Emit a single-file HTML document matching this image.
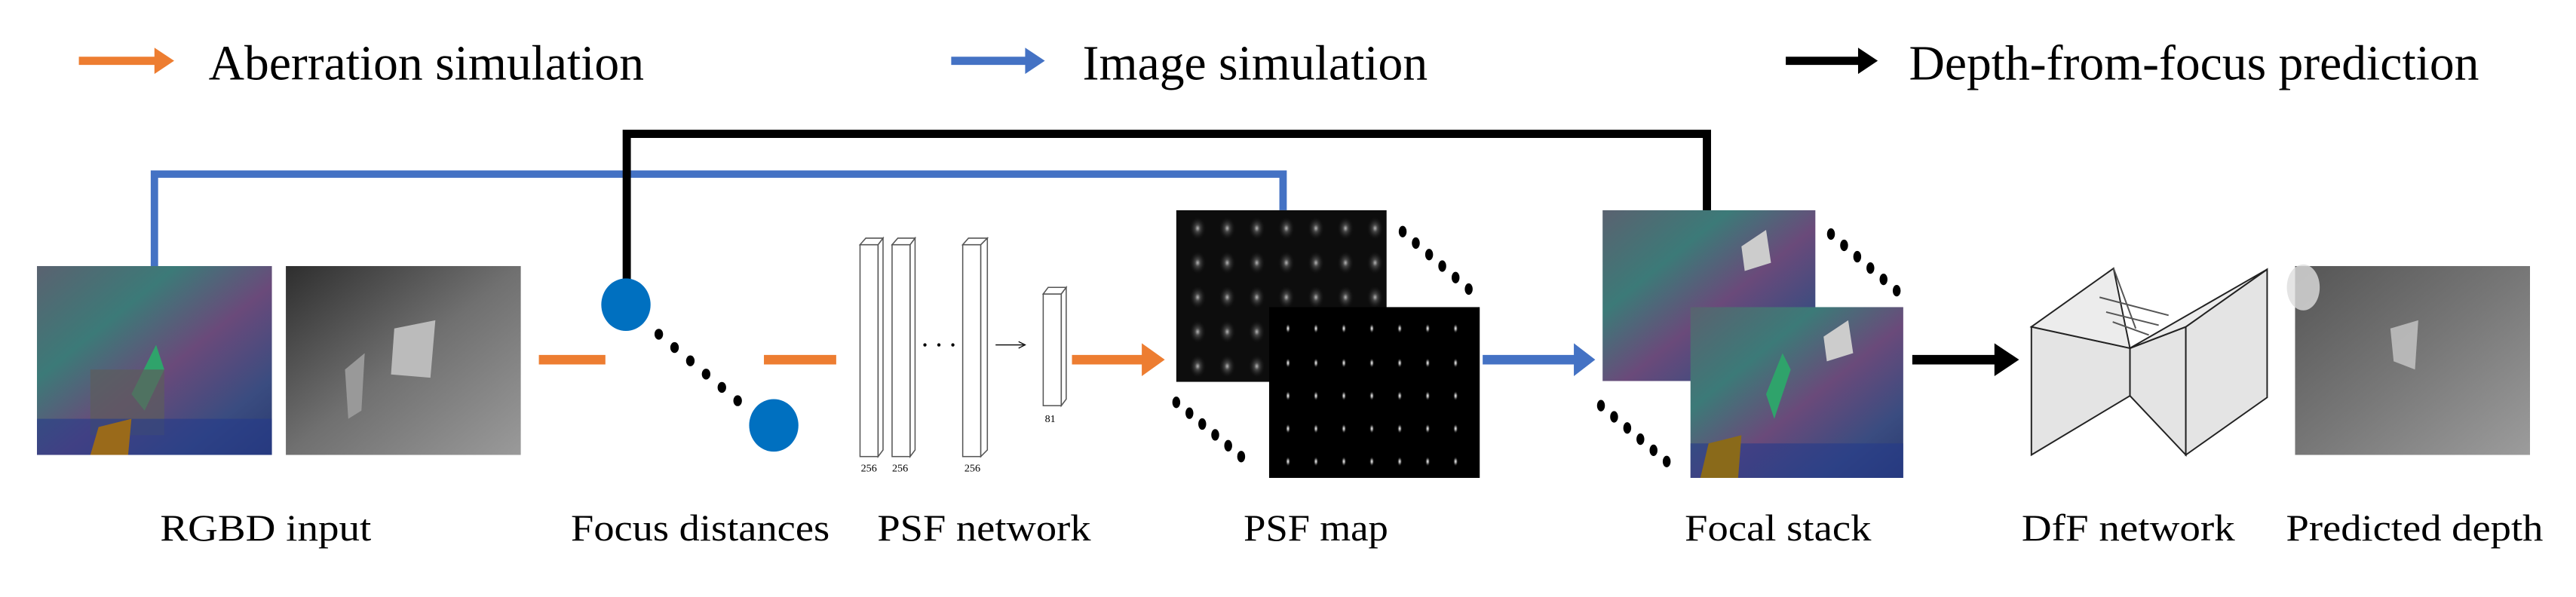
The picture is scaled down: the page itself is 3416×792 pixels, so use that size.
<!DOCTYPE html>
<html><head><meta charset="utf-8"><style>
html,body{margin:0;padding:0;background:#fff;}
svg{display:block;}
text{font-family:"Liberation Serif",serif;fill:#000;}
</style></head><body>
<svg width="3416" height="792" viewBox="0 0 1568 363.5">
<defs>
<linearGradient id="rgb" x1="0" y1="0" x2="1" y2="1">
<stop offset="0" stop-color="#5a6270"/><stop offset="0.3" stop-color="#3c7a78"/><stop offset="0.55" stop-color="#6a4a7a"/><stop offset="0.8" stop-color="#3a4c80"/><stop offset="1" stop-color="#2a3a70"/></linearGradient>
<linearGradient id="dep" x1="0" y1="0" x2="1" y2="1">
<stop offset="0" stop-color="#2e2e2e"/><stop offset="0.5" stop-color="#707070"/><stop offset="1" stop-color="#9a9a9a"/></linearGradient>
<linearGradient id="pred" x1="0" y1="0" x2="1" y2="1">
<stop offset="0" stop-color="#555"/><stop offset="0.5" stop-color="#777"/><stop offset="1" stop-color="#9c9c9c"/></linearGradient>
<radialGradient id="spot"><stop offset="0" stop-color="#fff"/><stop offset="0.4" stop-color="#888"/><stop offset="1" stop-color="#000" stop-opacity="0"/></radialGradient>
<radialGradient id="spot2"><stop offset="0" stop-color="#ddd"/><stop offset="0.3" stop-color="#555"/><stop offset="1" stop-color="#111" stop-opacity="0"/></radialGradient>
</defs>

<g>
<path d="M48,37 H96" stroke="#ed7d31" stroke-width="5"/><polygon points="94,29 106,37 94,45" fill="#ed7d31"/>
<text x="127" y="48.5" font-size="30" textLength="265" lengthAdjust="spacingAndGlyphs">Aberration simulation</text>
<path d="M579,37 H626" stroke="#4472c4" stroke-width="5"/><polygon points="624,29 636,37 624,45" fill="#4472c4"/>
<text x="659" y="48.5" font-size="30" textLength="210" lengthAdjust="spacingAndGlyphs">Image simulation</text>
<path d="M1087,37 H1133" stroke="#000" stroke-width="5"/><polygon points="1131,29 1143,37 1131,45" fill="#000"/>
<text x="1162" y="48.5" font-size="30" textLength="347" lengthAdjust="spacingAndGlyphs">Depth-from-focus prediction</text>
</g>

<path d="M94,162 V106 H781 V128" fill="none" stroke="#4472c4" stroke-width="4.5"/>
<path d="M381.5,175 V81.5 H1039 V132" fill="none" stroke="#000" stroke-width="5"/>

<rect x="22.5" y="162" width="143" height="115" fill="url(#rgb)"/>
<polygon points="80,240 95,210 100,225 88,250" fill="#2fa36b"/>
<rect x="55" y="225" width="45" height="40" fill="#5c5c5c" opacity="0.7"/>
<rect x="22.5" y="255" width="143" height="22" fill="#243a8a" opacity="0.6"/>
<polygon points="60,260 80,255 78,277 55,277" fill="#9a6a1a"/>
<rect x="174" y="162" width="143" height="115" fill="url(#dep)"/>
<polygon points="240,200 265,195 262,230 238,228" fill="#bbb"/>
<polygon points="210,225 222,215 220,250 212,255" fill="#999"/>

<path d="M328,219 H368.5" stroke="#ed7d31" stroke-width="5.8"/>
<ellipse cx="381" cy="185.5" rx="15" ry="16" fill="#0070c0"/>
<ellipse cx="471" cy="259" rx="15" ry="16" fill="#0070c0"/>
<g fill="#000">
<ellipse cx="401" cy="203.5" rx="2.6" ry="3.3"/><ellipse cx="410.6" cy="211.6" rx="2.6" ry="3.3"/><ellipse cx="420.2" cy="219.7" rx="2.6" ry="3.3"/><ellipse cx="429.8" cy="227.8" rx="2.6" ry="3.3"/><ellipse cx="439.4" cy="235.9" rx="2.6" ry="3.3"/><ellipse cx="449" cy="244" rx="2.6" ry="3.3"/>
</g>
<path d="M465,219 H509" stroke="#ed7d31" stroke-width="5.8"/>

<g fill="#fff" stroke="#555" stroke-width="0.7">
<rect x="523.5" y="149" width="11" height="129"/><polygon points="523.5,149 527,145 537.5,145 534.5,149"/><polygon points="534.5,149 537.5,145 537.5,274 534.5,278"/>
<rect x="543" y="149" width="11" height="129"/><polygon points="543,149 546.5,145 557,145 554,149"/><polygon points="554,149 557,145 557,274 554,278"/>
<rect x="586" y="149" width="11" height="129"/><polygon points="586,149 589.5,145 601,145 597,149"/><polygon points="597,149 601,145 601,274 597,278"/>
<rect x="635" y="179" width="11" height="68"/><polygon points="635,179 638,175 649,175 646,179"/><polygon points="646,179 649,175 649,243 646,247"/>
</g>
<g fill="#000"><circle cx="563" cy="210" r="1"/><circle cx="571.5" cy="210" r="1"/><circle cx="580" cy="210" r="1"/></g>
<path d="M606,210 H623" stroke="#000" stroke-width="0.6"/><path d="M620,208 L624,210 L620,212" fill="none" stroke="#000" stroke-width="0.6"/>
<g font-size="6.5" style="font-family:'Liberation Sans',sans-serif" fill="#333">
<text x="524" y="287">256</text><text x="543" y="287">256</text><text x="587" y="287">256</text><text x="636" y="257">81</text>
</g>
<path d="M652.5,219 H697" stroke="#ed7d31" stroke-width="5.8"/><polygon points="695,209 709,219 695,229" fill="#ed7d31"/>

<g>
<rect x="716" y="128" width="128" height="104.5" fill="#0d0d0d"/>
<g id="backspots"></g>
<rect x="772.5" y="187" width="128.2" height="104" fill="#000"/>
<g id="frontspots"></g>
</g>
<g fill="#000">
<ellipse cx="853.8" cy="141" rx="2.4" ry="3.5"/><ellipse cx="861.8" cy="148" rx="2.4" ry="3.5"/><ellipse cx="869.9" cy="155" rx="2.4" ry="3.5"/><ellipse cx="877.9" cy="162" rx="2.4" ry="3.5"/><ellipse cx="886" cy="169" rx="2.4" ry="3.5"/><ellipse cx="894" cy="176" rx="2.4" ry="3.5"/>
<ellipse cx="716" cy="245" rx="2.4" ry="3.5"/><ellipse cx="724" cy="251.6" rx="2.4" ry="3.5"/><ellipse cx="731.8" cy="258.2" rx="2.4" ry="3.5"/><ellipse cx="739.7" cy="264.8" rx="2.4" ry="3.5"/><ellipse cx="747.6" cy="271.4" rx="2.4" ry="3.5"/><ellipse cx="755.5" cy="278" rx="2.4" ry="3.5"/>
</g>
<path d="M902.5,219 H960" stroke="#4472c4" stroke-width="5.8"/><polygon points="958,209 971,219 958,229" fill="#4472c4"/>

<g>
<rect x="975.5" y="128" width="129.5" height="104" fill="url(#rgb)"/>
<polygon points="1060,150 1075,140 1078,160 1062,165" fill="#ccc"/>
<rect x="1029" y="187" width="129.5" height="104" fill="url(#rgb)"/>
<polygon points="1110,205 1125,195 1128,215 1112,220" fill="#ccc"/>
<polygon points="1075,240 1085,215 1090,225 1080,255" fill="#2fa36b"/>
<rect x="1029" y="270" width="129.5" height="21" fill="#243a8a" opacity="0.6"/>
<polygon points="1040,270 1060,265 1058,291 1035,291" fill="#8a6a1a"/>
</g>
<g fill="#000">
<ellipse cx="1114.5" cy="142.5" rx="2.4" ry="3.5"/><ellipse cx="1122.5" cy="149.4" rx="2.4" ry="3.5"/><ellipse cx="1130.5" cy="156.3" rx="2.4" ry="3.5"/><ellipse cx="1138.5" cy="163.2" rx="2.4" ry="3.5"/><ellipse cx="1146.5" cy="170.1" rx="2.4" ry="3.5"/><ellipse cx="1154.5" cy="177" rx="2.4" ry="3.5"/>
<ellipse cx="974.5" cy="247" rx="2.4" ry="3.5"/><ellipse cx="982.5" cy="253.8" rx="2.4" ry="3.5"/><ellipse cx="990.5" cy="260.6" rx="2.4" ry="3.5"/><ellipse cx="998.5" cy="267.4" rx="2.4" ry="3.5"/><ellipse cx="1006.5" cy="274.2" rx="2.4" ry="3.5"/><ellipse cx="1014.5" cy="281" rx="2.4" ry="3.5"/>
</g>
<path d="M1164,219 H1216" stroke="#000" stroke-width="5.8"/><polygon points="1214,209 1229,219 1214,229" fill="#000"/>

<g stroke="#222" stroke-width="0.9" fill="#e4e4e4">
<polygon points="1236.5,199 1296.5,212 1296.5,241 1236.5,277"/>
<polygon points="1296.5,212 1330.5,199 1330.5,277 1296.5,241"/>
<polygon points="1330.5,199 1380,164 1380,242 1330.5,277"/>
<polygon points="1236.5,199 1286.5,163.4 1296.5,212" fill="#ececec"/>
<polygon points="1296.5,212 1330.5,199 1380,164" fill="#ececec"/>
<path d="M1286.5,163.4 L1300,200 M1278,181 L1320,192 M1282,190 L1314,198 M1286,196 L1308,204" fill="none" stroke="#555"/>
</g>

<rect x="1397" y="162" width="143" height="115" fill="url(#pred)"/>
<polygon points="1455,200 1472,195 1470,225 1457,220" fill="#c8c8c8" opacity="0.8"/>
<ellipse cx="1402" cy="175" rx="10" ry="14" fill="#ddd" opacity="0.8"/>

<g font-size="23">
<text x="97.5" y="329" textLength="128.5" lengthAdjust="spacingAndGlyphs">RGBD input</text>
<text x="347.5" y="329" textLength="157.5" lengthAdjust="spacingAndGlyphs">Focus distances</text>
<text x="534" y="329" textLength="130" lengthAdjust="spacingAndGlyphs">PSF network</text>
<text x="757" y="329" textLength="88" lengthAdjust="spacingAndGlyphs">PSF map</text>
<text x="1025.5" y="329" textLength="113.5" lengthAdjust="spacingAndGlyphs">Focal stack</text>
<text x="1230.6" y="329" textLength="129.8" lengthAdjust="spacingAndGlyphs">DfF network</text>
<text x="1391.5" y="329" textLength="156.5" lengthAdjust="spacingAndGlyphs">Predicted depth</text>
</g>
</svg>
<script>
var NS='http://www.w3.org/2000/svg';
var backCols=[729,747,765,783,801,819,837];
var backRows=[139,160,181,202,223];
var frontCols=[784,801,818,835,852,869,886];
var frontRows=[200,221,241,261,281];
var bg=document.getElementById('backspots');
backRows.forEach(function(y){backCols.forEach(function(x){
 var e=document.createElementNS(NS,'ellipse');
 e.setAttribute('cx',x);e.setAttribute('cy',y);e.setAttribute('rx',5);e.setAttribute('ry',7);e.setAttribute('fill','url(#spot2)');e.setAttribute('opacity','0.8');
 
 
 bg.appendChild(e);});});
var fg=document.getElementById('frontspots');
frontRows.forEach(function(y){frontCols.forEach(function(x){
 var e=document.createElementNS(NS,'ellipse');
 e.setAttribute('cx',x);e.setAttribute('cy',y);e.setAttribute('rx',1.5);e.setAttribute('ry',3);e.setAttribute('fill','url(#spot)');
 
 
 fg.appendChild(e);});});
</script>
</body></html>
